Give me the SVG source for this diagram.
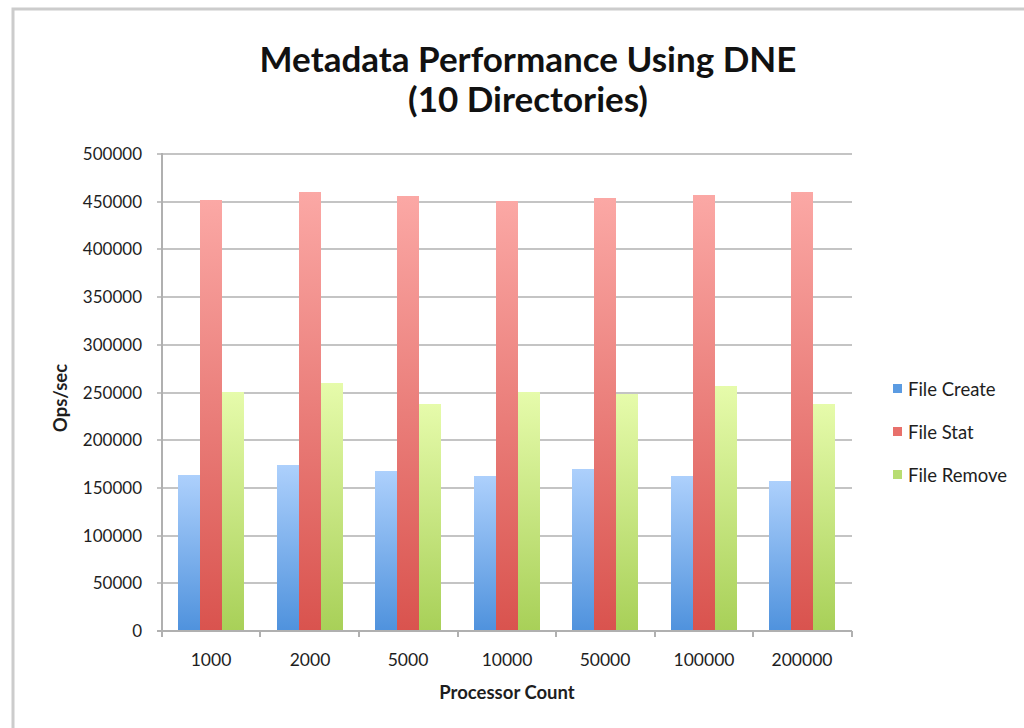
<svg xmlns="http://www.w3.org/2000/svg" width="1024" height="728" viewBox="0 0 1024 728">
  <defs>
    <linearGradient id="gBlue" x1="0" y1="0" x2="0" y2="1">
      <stop offset="0" stop-color="#add0fc"/>
      <stop offset="1" stop-color="#4f92dd"/>
    </linearGradient>
    <linearGradient id="gRed" x1="0" y1="0" x2="0" y2="1">
      <stop offset="0" stop-color="#fba8a5"/>
      <stop offset="1" stop-color="#d9534e"/>
    </linearGradient>
    <linearGradient id="gGreen" x1="0" y1="0" x2="0" y2="1">
      <stop offset="0" stop-color="#e6fbab"/>
      <stop offset="1" stop-color="#a8d058"/>
    </linearGradient>
  </defs>
  <style>
    text { font-family: Lato, "Open Sans", "Liberation Sans", sans-serif; fill: #1e1e1e; }
    .title { font-size: 35px; font-weight: bold; text-anchor: middle; fill: #111; }
    .ytick { font-size: 17px; text-anchor: end; }
    .xtick { font-size: 17.5px; text-anchor: middle; }
    .axt { font-size: 18.5px; font-weight: bold; text-anchor: middle; }
    .leg { font-size: 18.5px; }
    .grid { stroke: #c4c4c4; stroke-width: 2; }
    .axis { stroke: #b0b0b0; stroke-width: 2; fill: none; }
    .blue { fill: url(#gBlue); }
    .red { fill: url(#gRed); }
    .green { fill: url(#gGreen); }
  </style>

  <rect width="1024" height="728" fill="#ffffff"/>
  <!-- chart frame -->
  <path d="M13 728 V9 H1024" fill="none" stroke="#cccccc" stroke-width="3"/>

  <!-- title -->
  <g id="title">
    <text class="title" x="528" y="72">Metadata Performance Using DNE</text>
    <text class="title" x="528" y="112">(10 Directories)</text>
  </g>

  <!-- horizontal grid and value axis -->
  <g id="grid">
    <line class="grid" x1="157" y1="154" x2="852" y2="154"/>
    <line class="grid" x1="157" y1="202" x2="852" y2="202"/>
    <line class="grid" x1="157" y1="249" x2="852" y2="249"/>
    <line class="grid" x1="157" y1="297" x2="852" y2="297"/>
    <line class="grid" x1="157" y1="345" x2="852" y2="345"/>
    <line class="grid" x1="157" y1="393" x2="852" y2="393"/>
    <line class="grid" x1="157" y1="440" x2="852" y2="440"/>
    <line class="grid" x1="157" y1="488" x2="852" y2="488"/>
    <line class="grid" x1="157" y1="536" x2="852" y2="536"/>
    <line class="grid" x1="157" y1="583" x2="852" y2="583"/>
  </g>

  <g id="y-labels">
    <text class="ytick" x="142" y="160">500000</text>
    <text class="ytick" x="142" y="208">450000</text>
    <text class="ytick" x="142" y="255">400000</text>
    <text class="ytick" x="142" y="303">350000</text>
    <text class="ytick" x="142" y="351">300000</text>
    <text class="ytick" x="142" y="399">250000</text>
    <text class="ytick" x="142" y="446">200000</text>
    <text class="ytick" x="142" y="494">150000</text>
    <text class="ytick" x="142" y="542">100000</text>
    <text class="ytick" x="142" y="589">50000</text>
    <text class="ytick" x="142" y="637">0</text>
  </g>

  <!-- bars: File Create / File Stat / File Remove per processor count -->
  <g id="series-create">
    <rect class="blue" x="178" y="475" width="22" height="156"/>
    <rect class="blue" x="277" y="465" width="22" height="166"/>
    <rect class="blue" x="375" y="471" width="22" height="160"/>
    <rect class="blue" x="474" y="476" width="22" height="155"/>
    <rect class="blue" x="572" y="469" width="22" height="162"/>
    <rect class="blue" x="671" y="476" width="22" height="155"/>
    <rect class="blue" x="769" y="481" width="22" height="150"/>
  </g>
  <g id="series-stat">
    <rect class="red" x="200" y="200" width="22" height="431"/>
    <rect class="red" x="299" y="192" width="22" height="439"/>
    <rect class="red" x="397" y="196" width="22" height="435"/>
    <rect class="red" x="496" y="201" width="22" height="430"/>
    <rect class="red" x="594" y="198" width="22" height="433"/>
    <rect class="red" x="693" y="195" width="22" height="436"/>
    <rect class="red" x="791" y="192" width="22" height="439"/>
  </g>
  <g id="series-remove">
    <rect class="green" x="222" y="392" width="22" height="239"/>
    <rect class="green" x="321" y="383" width="22" height="248"/>
    <rect class="green" x="419" y="404" width="22" height="227"/>
    <rect class="green" x="518" y="392" width="22" height="239"/>
    <rect class="green" x="616" y="394" width="22" height="237"/>
    <rect class="green" x="715" y="386" width="22" height="245"/>
    <rect class="green" x="813" y="404" width="22" height="227"/>
  </g>

  <!-- axes with tick marks -->
  <g id="axes">
    <path class="axis" d="M162 153 V631"/>
    <path class="axis" d="M157 631 H852"/>
    <path class="axis" d="M162 631 V637 M260 631 V637 M359 631 V637 M458 631 V637 M556 631 V637 M655 631 V637 M753 631 V637 M852 631 V637"/>
  </g>

  <g id="x-labels">
    <text class="xtick" x="211" y="666">1000</text>
    <text class="xtick" x="310" y="666">2000</text>
    <text class="xtick" x="408" y="666">5000</text>
    <text class="xtick" x="507" y="666">10000</text>
    <text class="xtick" x="605" y="666">50000</text>
    <text class="xtick" x="704" y="666">100000</text>
    <text class="xtick" x="802" y="666">200000</text>
  </g>

  <g id="axis-titles">
    <text class="axt" x="507" y="699">Processor Count</text>
    <text class="axt" transform="translate(67 398) rotate(-90)">Ops/sec</text>
  </g>

  <!-- legend -->
  <g id="legend">
    <rect x="893" y="384" width="9" height="9" fill="#5b9be2"/>
    <text class="leg" x="908" y="396">File Create</text>
    <rect x="893" y="427" width="9" height="9" fill="#e8706b"/>
    <text class="leg" x="908" y="439">File Stat</text>
    <rect x="893" y="470" width="9" height="9" fill="#b8dd72"/>
    <text class="leg" x="908" y="482">File Remove</text>
  </g>
</svg>
